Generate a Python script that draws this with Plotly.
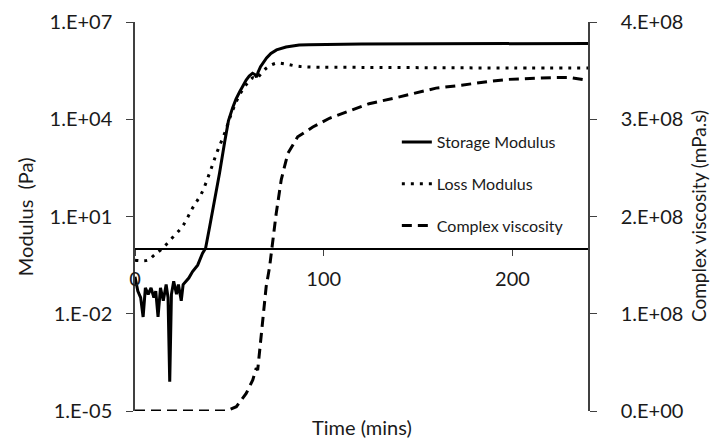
import plotly.graph_objects as go

# ---- data ----
storage_t = [0, 1.5, 3, 4.3, 5.5, 7, 8.5, 10, 11, 12.2, 13.5, 15, 16.5, 17.5, 18.4, 19.3,
             20.5, 22, 23, 24.5, 25.5, 27, 28.5, 30.5, 33.2, 35.8, 37.4, 39.5, 42.2, 44.8,
             47.5, 49.5, 51.7, 53.5, 55.4, 57, 58.9, 60.5, 62.3, 63.5, 64.4, 65.2, 66.5,
             69.7, 72, 75, 80, 87, 92, 120, 160, 200, 240]
storage_log = [-0.86, -1.3, -1.5, -2.1, -1.2, -1.4, -1.2, -1.5, -1.3, -2.1, -1.2, -1.6, -1.1,
               -1.5, -4.1, -1.4, -1.0, -1.4, -1.1, -1.6, -1.1, -1.0, -0.9, -0.7, -0.5, -0.13,
               0.02, 0.67, 1.51, 2.34, 3.3, 3.95, 4.35, 4.62, 4.84, 5.03, 5.21, 5.33, 5.42,
               5.38, 5.30, 5.45, 5.62, 5.89, 6.03, 6.14, 6.23, 6.29, 6.30, 6.32, 6.33, 6.34,
               6.34]
storage_pa = [10 ** v for v in storage_log]

loss_t = [0, 6.7, 10, 14.7, 20, 25.2, 30.5, 35.3, 39.5, 43.3, 47.5, 51.2, 55.4, 59.7, 62.5,
          64.4, 66, 69.7, 75, 80.3, 85.6, 92.4, 120, 160, 200, 240]
loss_log = [-0.35, -0.35, -0.2, 0.03, 0.36, 0.70, 1.26, 1.72, 2.34, 2.96, 3.57, 4.19, 4.75,
            5.12, 5.28, 5.25, 5.35, 5.58, 5.73, 5.70, 5.64, 5.61, 5.60, 5.59, 5.58, 5.58]
loss_pa = [10 ** v for v in loss_log]

visc_t = [0, 48.4, 53.7, 58.9, 62.4, 64.2, 65, 66, 67.7, 69.5, 71.3, 73, 74.8, 77.5, 81, 86.2,
          94.2, 103, 113, 124, 138, 147, 159.5, 173, 187.7, 198, 208.6, 223, 230, 236, 240]
visc_e8 = [0, 0, 0.044, 0.18, 0.32, 0.44, 0.42, 0.60, 0.94, 1.28, 1.48, 1.76, 2.03, 2.38, 2.65,
           2.82, 2.92, 3.01, 3.08, 3.16, 3.22, 3.26, 3.32, 3.35, 3.39, 3.41, 3.42, 3.43, 3.43,
           3.41, 3.40]
visc_mpas = [v * 1e8 for v in visc_e8]

left_tickvals = [1e-5, 1e-2, 1e1, 1e4, 1e7]
left_ticktext = ["1.E-05", "1.E-02", "1.E+01", "1.E+04", "1.E+07"]
right_tickvals = [0, 1e8, 2e8, 3e8, 4e8]
right_ticktext = ["0.E+00", "1.E+08", "2.E+08", "3.E+08", "4.E+08"]
x_tickvals = [0, 100, 200]

FONT = "Lato"
TXT = "#1a1a1a"
AX = "#404040"

fig = go.Figure()
fig.add_trace(go.Scatter(x=storage_t, y=storage_pa, mode="lines", name="Storage Modulus",
                         legendgroup="a", line=dict(color="black", width=3)))
fig.add_trace(go.Scatter(x=loss_t, y=loss_pa, mode="lines", name="Loss Modulus",
                         legendgroup="b", line=dict(color="black", width=3, dash="3px,6px"),
                         line_shape="spline"))
fig.add_trace(go.Scatter(x=visc_t, y=visc_mpas, mode="lines", name="Complex viscosity",
                         legendgroup="c", yaxis="y2",
                         line=dict(color="black", width=3, dash="10px,6px")))

fig.update_layout(
    width=711, height=439,
    margin=dict(l=135, r=123, t=22, b=28),
    paper_bgcolor="white", plot_bgcolor="white",
    font=dict(family=FONT, color=TXT, size=20),
    showlegend=True,
    legend=dict(x=0.578, y=0.735, xanchor="left", yanchor="top",
                bgcolor="rgba(0,0,0,0)", borderwidth=0,
                font=dict(family=FONT, size=16, color=TXT),
                traceorder="grouped", tracegroupgap=18),
    xaxis=dict(range=[0, 240], anchor="free", position=5 / 12,
               tickvals=x_tickvals, ticks="outside", ticklen=6, tickcolor=AX,
               showline=True, linecolor="black", linewidth=1.5,
               showgrid=False, zeroline=False, ticklabelstandoff=6,
               tickfont=dict(size=20), automargin=False),
    yaxis=dict(type="log", range=[-5, 7], tickvals=left_tickvals, ticktext=left_ticktext,
               ticks="outside", ticklen=7, tickcolor=AX, showline=True, linecolor=AX,
               linewidth=1.5, showgrid=False, zeroline=False, ticklabelstandoff=10,
               tickfont=dict(size=20), automargin=False),
    yaxis2=dict(range=[0, 4e8], overlaying="y", side="right", anchor="x",
                tickvals=right_tickvals, ticktext=right_ticktext,
                ticks="outside", ticklen=7, tickcolor=AX, showline=True, linecolor=AX,
                linewidth=1.5, showgrid=False, zeroline=False, ticklabelstandoff=20,
                tickfont=dict(size=20), automargin=False),
    annotations=[
        dict(text="Time (mins)", x=0.5, y=-0.041, xref="paper", yref="paper",
             xanchor="center", yanchor="middle", showarrow=False,
             font=dict(size=20, family=FONT, color=TXT)),
        dict(text="Modulus\u00a0 (Pa)", x=-0.2435, y=0.5, xref="paper", yref="paper",
             xanchor="center", yanchor="middle", textangle=-90, showarrow=False,
             font=dict(size=20, family=FONT, color=TXT)),
        dict(text="Complex viscosity (mPa.s)", x=1.244, y=0.5, xref="paper", yref="paper",
             xanchor="center", yanchor="middle", textangle=-90, showarrow=False,
             font=dict(size=19, family=FONT, color=TXT)),
    ],
)

fig.write_html("out.html", config={"displayModeBar": False},
               post_script="document.body.style.margin='0';")
